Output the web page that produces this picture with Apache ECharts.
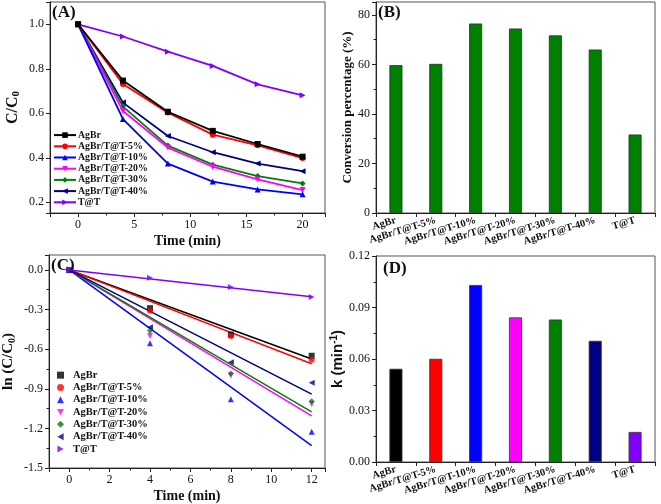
<!DOCTYPE html>
<html>
<head>
<meta charset="utf-8">
<script src="https://cdn.jsdelivr.net/npm/echarts@6/dist/echarts.min.js"></script>
<style>html,body{margin:0;padding:0;background:#fff}#c{width:661px;height:504px}</style>
</head>
<body>
<div id="c"></div>
<script>
// ---------- data ----------
const names = ['AgBr', 'AgBr/T@T-5%', 'AgBr/T@T-10%', 'AgBr/T@T-20%', 'AgBr/T@T-30%', 'AgBr/T@T-40%', 'T@T'];
// (A) C/C0 vs time
const timeA = [0, 4, 8, 12, 16, 20];
const ccAgBr = [1.0, 0.747, 0.607, 0.521, 0.462, 0.405];
const cc5 = [1.0, 0.732, 0.603, 0.504, 0.456, 0.399];
const cc10 = [1.0, 0.574, 0.374, 0.293, 0.258, 0.236];
const cc20 = [1.0, 0.61, 0.446, 0.36, 0.303, 0.255];
const cc30 = [1.0, 0.63, 0.455, 0.369, 0.318, 0.285];
const cc40 = [1.0, 0.648, 0.498, 0.425, 0.374, 0.34];
const ccTT = [1.0, 0.945, 0.877, 0.813, 0.73, 0.681];
// (B) conversion percentage
const conversion = [59.7, 60.2, 76.5, 74.5, 71.7, 66.0, 31.7];
// (C) ln(C/C0) vs time
const timeC = [0, 4, 8, 12];
const lnAgBr = [0, -0.29, -0.49, -0.65];
const ln5 = [0, -0.31, -0.50, -0.68];
const ln10 = [0, -0.555, -0.98, -1.225];
const ln20 = [0, -0.50, -0.80, -1.015];
const ln30 = [0, -0.46, -0.785, -0.995];
const ln40 = [0, -0.435, -0.70, -0.855];
const lnTT = [0, -0.06, -0.13, -0.205];
// fitted line values at t = 0 and t = 12
const fitT = [0, 12];
const fitStart = [0, 0, 0, 0, 0, 0, 0];
const fitEnd = [-0.675, -0.71, -1.33, -1.105, -1.075, -0.94, -0.203];
// (D) rate constant k
const kValues = [0.0543, 0.0601, 0.1031, 0.0842, 0.0830, 0.0706, 0.0175];

// ---------- styles ----------
const colors = ['#000000', '#ff0000', '#0000ff', '#ff00ff', '#008000', '#000080', '#8000ff'];
const symbols = ['rect', 'circle', 'triangle', 'path://M0,0 L10,0 L5,9 Z', 'diamond', 'path://M9,0 L9,10 L0,5 Z', 'path://M0,0 L0,10 L9,5 Z'];
const serif = '"Liberation Serif", "Times New Roman", serif';
const ccSets = [ccAgBr, cc5, cc10, cc20, cc30, cc40, ccTT];
const lnSets = [lnAgBr, ln5, ln10, ln20, ln30, ln40, lnTT];
const C_PREFIX = 'C: ';

const axisLine = { show: true, onZero: false, lineStyle: { color: '#222', width: 1 } };
const axisTick = { show: true, inside: false, length: 4, lineStyle: { color: '#222' } };
const minorTick = { show: true, splitNumber: 2, length: 2.5, lineStyle: { color: '#222' } };
const tickLabel = { fontFamily: serif, fontSize: 12, color: '#111', margin: 6 };
const titleStyle = { fontFamily: serif, fontWeight: 'bold', fontSize: 14, color: '#111' };

function onMultiple(v, step) { return Math.abs(v / step - Math.round(v / step)) < 1e-6; }

const series = [];
names.forEach((n, i) => {
  series.push({
    name: n, type: 'line', xAxisIndex: 0, yAxisIndex: 0,
    data: timeA.map((t, j) => [t, ccSets[i][j]]),
    symbol: symbols[i], symbolSize: 6, color: colors[i],
    lineStyle: { width: 1.8, color: colors[i] }, itemStyle: { color: colors[i] },
    z: 10 - i
  });
});
series.push({
  type: 'bar', xAxisIndex: 1, yAxisIndex: 1, data: conversion, barWidth: 13,
  itemStyle: { color: '#008000', borderColor: '#1a3a1a', borderWidth: 0.8 }
});
names.forEach((n, i) => {
  series.push({
    name: 'fit ' + n, type: 'line', xAxisIndex: 2, yAxisIndex: 2,
    data: [[fitT[0], fitStart[i]], [fitT[1], fitEnd[i]]],
    showSymbol: false, symbol: 'none', silent: true,
    lineStyle: { width: 1.5, color: colors[i] }, z: 3
  });
});
names.forEach((n, i) => {
  series.push({
    name: C_PREFIX + n, type: 'scatter', xAxisIndex: 2, yAxisIndex: 2,
    data: timeC.map((t, j) => [t, lnSets[i][j]]),
    symbol: symbols[i], symbolSize: 6, itemStyle: { color: colors[i] }, z: 5
  });
});
series.push({
  type: 'bar', xAxisIndex: 3, yAxisIndex: 3, barWidth: 13,
  data: kValues.map((v, i) => ({ value: v, itemStyle: { color: colors[i] } })),
  itemStyle: { borderColor: '#333', borderWidth: 0.8 }
});

const catAxisLabel = { fontFamily: serif, fontWeight: 'bold', fontSize: 10.5, color: '#111', rotate: 17, interval: 0, margin: 7 };

const option = {
  animation: false,
  backgroundColor: '#fff',
  grid: [
    { left: 50, top: 2, width: 275, height: 211, show: true, borderColor: '#555', borderWidth: 1 },
    { left: 376, top: 2, width: 279, height: 211, show: true, borderColor: '#555', borderWidth: 1 },
    { left: 49, top: 255, width: 276, height: 213, show: true, borderColor: '#555', borderWidth: 1 },
    { left: 376, top: 256, width: 279, height: 206, show: true, borderColor: '#555', borderWidth: 1 }
  ],
  xAxis: [
    { gridIndex: 0, type: 'value', min: -2.5, max: 22, splitLine: { show: false },
      axisLine, axisTick, minorTick,
      axisLabel: Object.assign({}, tickLabel, { formatter: v => onMultiple(v, 5) ? String(Math.round(v)) : '' }),
      name: 'Time (min)', nameLocation: 'middle', nameGap: 21, nameTextStyle: titleStyle },
    { gridIndex: 1, type: 'category', data: names, axisLine,
      axisTick: { show: true, alignWithLabel: false, length: 4, lineStyle: { color: '#222' } },
      axisLabel: catAxisLabel },
    { gridIndex: 2, type: 'value', min: -1, max: 12.66, splitNumber: 7, splitLine: { show: false },
      axisLine, axisTick, minorTick,
      axisLabel: Object.assign({}, tickLabel, { formatter: v => onMultiple(v, 2) ? String(Math.round(v)) : '' }),
      name: 'Time (min)', nameLocation: 'middle', nameGap: 21, nameTextStyle: titleStyle },
    { gridIndex: 3, type: 'category', data: names, axisLine,
      axisTick: { show: true, alignWithLabel: false, length: 4, lineStyle: { color: '#222' } },
      axisLabel: catAxisLabel }
  ],
  yAxis: [
    { gridIndex: 0, type: 'value', min: 0.152, max: 1.1, splitLine: { show: false },
      axisLine, axisTick, minorTick: { show: false },
      axisLabel: Object.assign({}, tickLabel, { formatter: v => onMultiple(v, 0.2) ? v.toFixed(1) : '' }),
      name: 'C/C{s|0}', nameLocation: 'middle', nameRotate: 90, nameGap: 28,
      nameTextStyle: { fontFamily: serif, fontWeight: 'bold', fontSize: 16, color: '#111',
        rich: { s: { fontFamily: serif, fontWeight: 'bold', fontSize: 11, color: '#111', padding: [7, 0, 0, 0] } } } },
    { gridIndex: 1, type: 'value', min: 0, max: 85.2, interval: 20, splitLine: { show: false },
      axisLine, axisTick, minorTick,
      axisLabel: Object.assign({}, tickLabel, { formatter: v => onMultiple(v, 20) ? String(Math.round(v)) : '' }),
      name: 'Conversion percentage (%)', nameLocation: 'middle', nameRotate: 90, nameGap: 22,
      nameTextStyle: Object.assign({}, titleStyle, { fontSize: 13 }) },
    { gridIndex: 2, type: 'value', min: -1.5, max: 0.113, interval: 0.3, splitLine: { show: false },
      axisLine, axisTick, minorTick,
      axisLabel: Object.assign({}, tickLabel, { formatter: v => onMultiple(v, 0.3) ? v.toFixed(1) : '' }),
      name: 'ln (C/C{s|0})', nameLocation: 'middle', nameRotate: 90, nameGap: 32,
      nameTextStyle: { fontFamily: serif, fontWeight: 'bold', fontSize: 15, color: '#111',
        rich: { s: { fontFamily: serif, fontWeight: 'bold', fontSize: 10, color: '#111', padding: [7, 0, 0, 0] } } } },
    { gridIndex: 3, type: 'value', min: 0, max: 0.12, interval: 0.03, splitLine: { show: false },
      axisLine, axisTick, minorTick,
      axisLabel: Object.assign({}, tickLabel, { formatter: v => v.toFixed(2) }),
      name: 'k (min{p|-1})', nameLocation: 'middle', nameRotate: 90, nameGap: 26,
      nameTextStyle: { fontFamily: '"Liberation Sans", Arial, sans-serif', fontWeight: 'bold', fontSize: 15, color: '#111',
        rich: { p: { fontFamily: '"Liberation Sans", Arial, sans-serif', fontWeight: 'bold', fontSize: 10, color: '#111', padding: [0, 0, 7, 0] } } } }
  ],
  legend: [
    { orient: 'vertical', left: 53, top: 129.5, padding: 0, itemWidth: 22, itemHeight: 7, itemGap: 0,
      data: names, selectedMode: false,
      textStyle: { fontFamily: serif, fontWeight: 'bold', fontSize: 9.8, lineHeight: 11.2, color: '#111', padding: [0, 0, 0, -3] } },
    { orient: 'vertical', left: 57, top: 369, padding: 0, itemWidth: 7, itemHeight: 7, itemGap: 0,
      data: names.map(n => C_PREFIX + n), selectedMode: false,
      formatter: n => n.slice(C_PREFIX.length),
      textStyle: { fontFamily: serif, fontWeight: 'bold', fontSize: 10.5, lineHeight: 12.3, color: '#111', padding: [0, 0, 0, 4] } }
  ],
  graphic: [
    { type: 'text', left: 52, top: 4, style: { text: '(A)', font: 'bold 17px ' + serif, fill: '#111' } },
    { type: 'text', left: 378, top: 4, style: { text: '(B)', font: 'bold 17px ' + serif, fill: '#111' } },
    { type: 'text', left: 51, top: 257, style: { text: '(C)', font: 'bold 17px ' + serif, fill: '#111' } },
    { type: 'text', left: 383, top: 260, style: { text: '(D)', font: 'bold 17px ' + serif, fill: '#111' } }
  ],
  series
};

const chart = echarts.init(document.getElementById('c'), null, { renderer: 'canvas', width: 661, height: 504 });
chart.setOption(option);
</script>
</body>
</html>
